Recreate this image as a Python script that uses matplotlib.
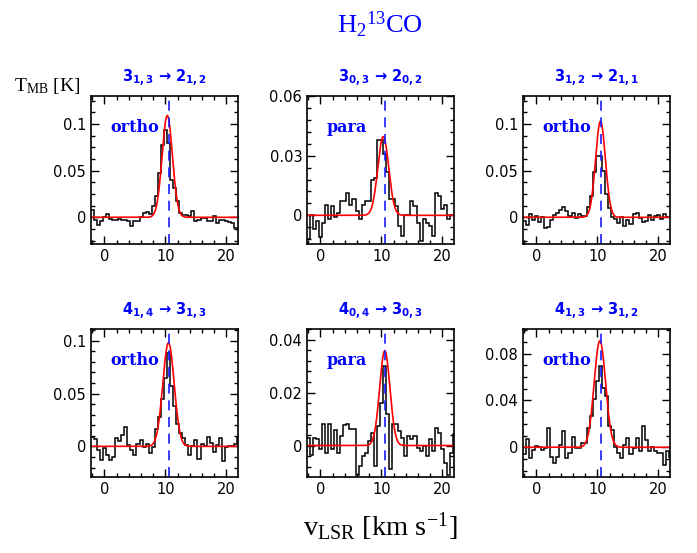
import numpy as np
import matplotlib
matplotlib.use("Agg")
import matplotlib.pyplot as plt
from matplotlib.ticker import MultipleLocator, FuncFormatter

plt.rcParams['mathtext.default'] = 'regular'

# channel velocities (km/s), 0.5 km/s channels
vel = np.arange(-2.0, 22.01, 0.5)

# panel titles / labels
titles = [r'3$_{1,3}$ → 2$_{1,2}$', r'3$_{0,3}$ → 2$_{0,2}$', r'3$_{1,2}$ → 2$_{1,1}$',
          r'4$_{1,4}$ → 3$_{1,3}$', r'4$_{0,4}$ → 3$_{0,3}$', r'4$_{1,3}$ → 3$_{1,2}$']
kinds = ['ortho', 'para', 'ortho', 'ortho', 'para', 'ortho']

# observed spectra, T_MB [K]
t_313 = [0.008, -0.003, -0.008, -0.004, 0.0, 0.003, -0.002, -0.003, -0.003, -0.002,
         -0.003, -0.003, -0.004, -0.009, -0.004, -0.004, 0.0, 0.005, 0.006, 0.003,
         0.012, 0.023, 0.047, 0.078, 0.094, 0.080, 0.040, 0.031, 0.018, 0.005,
         0.002, 0.002, 0.001, 0.007, -0.004, -0.003, -0.001, -0.001, -0.004, -0.004,
         0.001, -0.006, -0.003, -0.003, -0.004, -0.005, -0.006, -0.012, -0.012]
t_303 = [-0.012, 0.0, -0.007, -0.003, -0.011, -0.004, 0.005, -0.002, 0.0045, -0.001,
         0.001, 0.007, 0.007, 0.011, 0.005, 0.008, 0.002, -0.002, 0.005, 0.007,
         0.007, 0.018, 0.019, 0.038, 0.038, 0.031, 0.022, 0.008, 0.008, 0.0045,
         -0.0055, -0.0105, 0.0, 0.0, 0.007, 0.0045, -0.004, -0.013, -0.002, -0.004,
         -0.0055, -0.0105, 0.011, 0.0095, 0.003, 0.005, -0.002, 0.0, 0.0]
t_312 = [-0.0035, -0.008, 0.003, -0.003, 0.001, -0.005, 0.0, -0.011, -0.010, -0.003,
         0.002, 0.005, 0.0075, 0.011, 0.0065, 0.001, 0.005, -0.001, 0.003, 0.001,
         0.001, 0.011, 0.023, 0.049, 0.066, 0.066, 0.050, 0.025, 0.010, 0.0,
         -0.002, -0.006, 0.0, -0.009, -0.003, -0.007, 0.003, 0.005, -0.001, -0.005,
         -0.004, 0.002, -0.003, 0.001, 0.002, -0.002, 0.004, 0.0, 0.0]
t_414 = [0.009, 0.007, -0.003, -0.0125, -0.002, -0.008, -0.0125, -0.010, 0.008, 0.005,
         0.011, 0.018, 0.001, -0.003, -0.008, 0.0025, 0.006, -0.001, 0.002, -0.006,
         -0.001, 0.016, 0.028, 0.045, 0.065, 0.088, 0.057, 0.038, 0.021, 0.013,
         0.008, 0.001, -0.008, 0.0, 0.006, -0.012, 0.002, 0.0, 0.009, 0.003,
         -0.005, 0.001, 0.008, -0.014, -0.001, 0.0, 0.0, 0.002, 0.009]
t_404 = [0.003, -0.0034, 0.003, 0.0023, -0.0015, 0.008, -0.003, 0.008, -0.0015, 0.006,
         -0.003, 0.0035, 0.0076, 0.0083, 0.0063, 0.0063, -0.011, -0.0078, -0.004, -0.003,
         0.0016, 0.0048, -0.0078, 0.0073, 0.016, 0.030, 0.012, -0.009, 0.008, 0.008,
         0.0055, 0.003, -0.004, 0.0035, 0.0023, 0.0035, -0.001, -0.002, 0.0, -0.004,
         0.0023, -0.002, 0.0067, 0.0048, -0.0015, -0.0066, -0.011, -0.003, 0.0042]
t_413 = [-0.006, 0.007, -0.009, -0.002, 0.001, 0.0, -0.002, -0.001, 0.0166, -0.008,
         -0.013, -0.008, 0.0023, 0.0137, -0.009, -0.005, 0.009, -0.0005, -0.0005, 0.0037,
         0.0037, 0.0166, 0.0266, 0.041, 0.057, 0.0695, 0.051, 0.044, 0.0186, 0.015,
         0.0, -0.005, -0.009, 0.002, 0.008, -0.006, -0.001, 0.008, -0.003, 0.0186,
         0.0066, -0.0034, 0.0, -0.003, -0.005, -0.005, -0.015, -0.003, -0.008]
spectra = [t_313, t_303, t_312, t_414, t_404, t_413]

# gaussian fits: amplitude [K], centre [km/s], FWHM [km/s]
fit_amp = [0.109, 0.0396, 0.103, 0.098, 0.0358, 0.091]
fit_v0 = [10.3, 10.3, 10.5, 10.5, 10.55, 10.4]
fit_fwhm = [2.0, 2.1, 1.9, 2.2, 2.0, 2.2]
v_sys = 10.55

# axis settings per panel
ylims = [(-0.0286, 0.130), (-0.0144, 0.060), (-0.0286, 0.130),
         (-0.029, 0.111), (-0.0119, 0.044), (-0.0254, 0.101)]
ymajor = [0.05, 0.03, 0.05, 0.05, 0.02, 0.04]
yminor = [0.0125, 0.006, 0.0125, 0.01, 0.004, 0.01]

fig = plt.figure(figsize=(6.97, 5.53), dpi=100)
lefts = [0.1306, 0.4405, 0.7504]
bottoms = [0.5588, 0.1374]
w, h = 0.2109, 0.2676

edges = np.append(vel - 0.25, vel[-1] + 0.25)
vfine = np.linspace(-3, 23, 600)
fmt = FuncFormatter(lambda y, p: '0' if abs(y) < 1e-9 else '%g' % y)

for i in range(6):
    ax = fig.add_axes([lefts[i % 3], bottoms[i // 3], w, h])
    ax.stairs(spectra[i], edges, baseline=None, color='black', lw=1.1)
    model = fit_amp[i] * np.exp(-4 * np.log(2) * (vfine - fit_v0[i])**2 / fit_fwhm[i]**2)
    ax.plot(vfine, model, color='red', lw=1.2)
    ax.axvline(v_sys, color='#1a1aff', lw=1.2, ls=(0, (6, 4)))
    ax.set_xlim(-2.2, 21.9)
    ax.set_ylim(*ylims[i])
    ax.xaxis.set_major_locator(MultipleLocator(10))
    ax.xaxis.set_minor_locator(MultipleLocator(2))
    ax.yaxis.set_major_locator(MultipleLocator(ymajor[i]))
    ax.yaxis.set_minor_locator(MultipleLocator(yminor[i]))
    ax.yaxis.set_major_formatter(fmt)
    ax.tick_params(which='both', direction='in', top=True, right=True, labelsize=10.5)
    ax.tick_params(which='major', length=6, width=1)
    ax.tick_params(which='minor', length=3, width=1)
    for s in ax.spines.values():
        s.set_linewidth(1.2)
    ax.set_title(titles[i], color='blue', fontsize=10.5, fontweight='bold', pad=10)
    ax.text(0.13, 0.79, kinds[i], transform=ax.transAxes, color='blue',
            fontsize=11.5, fontweight='bold', family='DejaVu Serif', va='center')

fig.text(0.545, 0.955, r'H$_2$$^{13}$CO', color='blue', fontsize=19,
         family='Liberation Serif', ha='center', va='center')
fig.text(0.02, 0.845, r'T$_{MB}$ [K]', fontsize=14, family='Liberation Serif',
         ha='left', va='center')
fig.text(0.545, 0.047, r'v$_{LSR}$ [km s$^{-1}$]', fontsize=20.5,
         family='Liberation Serif', ha='center', va='center')

fig.savefig('out.png', dpi=100)
